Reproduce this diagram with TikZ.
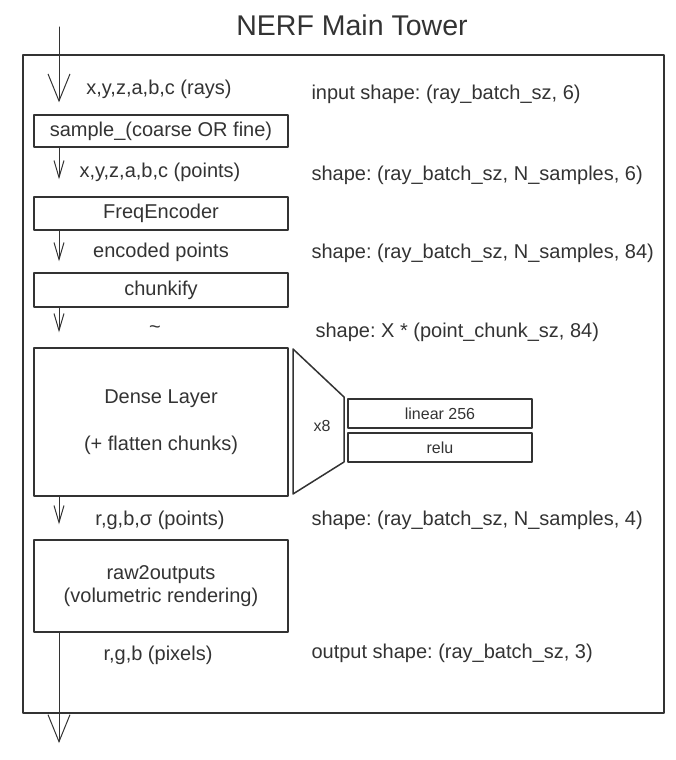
\documentclass[tikz,border=0pt]{standalone}
\usepackage{fontspec}
\setmainfont{Liberation Sans}
\usetikzlibrary{arrows.meta}
\definecolor{ink}{RGB}{51,51,51}
\frenchspacing
\begin{document}
\begin{tikzpicture}[x=1pt, y=-1pt, line join=round, line cap=round,
	every node/.style={text=ink, font=\fontsize{20}{23}\selectfont},
	blk/.style={draw=ink, line width=1.5pt, minimum width=254pt, inner sep=0pt, align=center},
	sub/.style={draw=ink, line width=1.5pt, minimum width=184pt, minimum height=29pt, inner sep=0pt, font=\fontsize{16}{19}\selectfont},
	flow/.style={draw=ink, line width=1pt, -{Straight Barb[length=17pt,width=10pt]}},
	bigflow/.style={draw=ink, line width=1pt, -{Straight Barb[length=27pt,width=22pt]}},
	shp/.style={anchor=west}]
			\useasboundingbox (0,0) rectangle (675,760);
			\node (title) at (352,25) {\fontsize{28.5}{34}\selectfont NERF Main Tower};
			\draw[draw=ink, line width=2pt] (23,55) rectangle (664,713);
			\coordinate (in) at (59,27);
			\coordinate (out) at (59,743);
			% blocks of the tower
			\node[blk, minimum height=32pt] (sample) at (161,131) {sample\_(coarse OR fine)};
			\node[blk, minimum height=33pt] (freq) at (161,213.5) {FreqEncoder};
			\node[blk, minimum height=34pt] (chunk) at (161,290) {chunkify};
			\node[blk, minimum height=148pt] (dense) at (161,422) {Dense Layer\\[24pt](+ flatten chunks)};
			\node[blk, minimum height=92pt] (raw) at (161,586) {raw2outputs\\(volumetric rendering)};
			% the x8 stack
			\draw[draw=ink, line width=1.5pt] (293,349) -- (344,397) -- (344,462) -- (293,494) -- cycle;
			\node[font=\fontsize{16}{19}\selectfont] (rep) at (322,426) {x8};
			\node[sub] (lin) at (440,413.5) {linear 256};
			\node[sub] (relu) at (440,447.5) {relu};
			% arrows
			\draw[bigflow, shorten >=12pt] (in) -- (sample.north -| in);
			\draw[flow, shorten >=17pt] (sample.south -| in) -- (freq.north -| in);
			\draw[flow, shorten >=11pt] (freq.south -| in) -- (chunk.north -| in);
			\draw[flow, shorten >=15pt] (chunk.south -| in) -- (dense.north -| in);
			\draw[flow, shorten >=15pt] (dense.south -| in) -- (raw.north -| in);
			\draw[bigflow] (raw.south -| out) -- (out);
			% data between blocks
			\node (rays) at (159,89) {x,y,z,a,b,c (rays)};
			\node (pts) at (160,172) {x,y,z,a,b,c (points)};
			\node (enc) at (161,252) {encoded points};
			\node (tld) at (155,330) {\textasciitilde};
			\node (rgbs) at (160,520) {r,g,b,σ (points)};
			\node (pix) at (158,655) {r,g,b (pixels)};
			% shapes
			\node[shp] (s1) at (308,94) {input shape: (ray\_batch\_sz, 6)};
			\node[shp] (s2) at (308,175) {shape: (ray\_batch\_sz, N\_samples, 6)};
			\node[shp] (s3) at (308,253) {shape: (ray\_batch\_sz, N\_samples, 84)};
			\node[shp] (s4) at (312,332) {shape: X * (point\_chunk\_sz, 84)};
			\node[shp] (s5) at (308,520) {shape: (ray\_batch\_sz, N\_samples, 4)};
			\node[shp] (s6) at (308,653) {output shape: (ray\_batch\_sz, 3)};
		\end{tikzpicture}
\end{document}
